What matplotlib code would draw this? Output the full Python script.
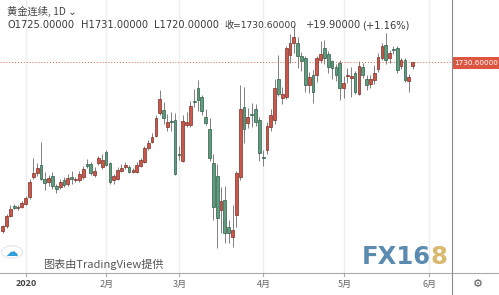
import matplotlib
matplotlib.use("Agg")
import matplotlib.pyplot as plt
from matplotlib.patches import Rectangle, Circle
from matplotlib.lines import Line2D

# ---------------- data (daily candles) ----------------
opens = [1473,1480,1496,1511,1508,1510,1514,1524,1556,1561,
         1574,1552,1547,1557,1542,1540,1551,1545,1555,1551,
         1551,1556,1575,1575,1558,1577,1570,1594,1576,1550,
         1553,1565,1570,1570,1563,1563,1572,1579,1599,1609,
         1618,1653,1658,1632,1641,1642,1590,1580,1635,1635,
         1671,1691,1678,1647,1628,1577,1557,1505,1520,1479,
         1463,1497,1556,1663,1638,1651,1660,1642,1586,1597,
         1632,1642,1705,1676,1678,1742,1761,1761,1740,1737,
         1696,1711,1711,1735,1752,1744,1732,1724,1729,1691,
         1710,1707,1714,1683,1724,1705,1698,1703,1721,1738,
         1757,1737,1751,1752,1725,1735,1702,1725]
highs = [1482,1499,1512,1514,1513,1519,1526,1552,1585,1576,
         1609,1563,1559,1563,1545,1552,1555,1560,1565,1556,
         1564,1572,1583,1578,1570,1588,1590,1597,1578,1560,
         1570,1575,1578,1574,1569,1578,1585,1603,1612,1623,
         1650,1689,1670,1652,1655,1653,1602,1650,1655,1671,
         1690,1704,1680,1660,1645,1590,1575,1540,1541,1490,
         1512,1565,1696,1693,1661,1668,1667,1647,1597,1640,
         1660,1705,1742,1693,1756,1774,1788,1770,1747,1740,
         1716,1719,1740,1764,1765,1748,1735,1728,1735,1710,
         1722,1724,1717,1732,1730,1712,1712,1727,1745,1760,
         1775,1750,1756,1755,1738,1738,1713,1731]
lows = [1470,1478,1494,1506,1505,1508,1512,1521,1553,1557,
        1551,1535,1541,1537,1531,1537,1540,1542,1545,1548,
        1548,1553,1569,1558,1555,1574,1568,1572,1545,1544,
        1551,1563,1568,1561,1561,1561,1570,1577,1597,1607,
        1616,1650,1637,1625,1625,1558,1581,1578,1632,1632,
        1662,1656,1650,1635,1580,1490,1446,1470,1454,1454,
        1449,1479,1550,1607,1630,1632,1633,1580,1572,1590,
        1625,1637,1679,1667,1675,1729,1745,1722,1717,1685,
        1684,1668,1700,1730,1728,1714,1705,1702,1673,1676,
        1699,1678,1682,1680,1706,1688,1692,1698,1716,1735,
        1728,1730,1744,1715,1720,1700,1686,1720]
closes = [1480,1496,1507,1508,1510,1516,1523,1547,1562,1569,
          1553,1546,1554,1542,1537,1548,1543,1554,1552,1553,
          1560,1567,1572,1562,1565,1584,1582,1574,1548,1557,
          1566,1569,1574,1563,1566,1574,1581,1599,1608,1616,
          1645,1674,1645,1640,1639,1560,1589,1641,1640,1664,
          1670,1673,1657,1638,1585,1510,1492,1518,1469,1470,
          1475,1561,1660,1628,1647,1650,1640,1592,1585,1633,
          1650,1691,1683,1682,1752,1761,1769,1740,1732,1696,
          1709,1686,1737,1744,1737,1724,1722,1711,1691,1699,
          1710.5,1710,1686,1725,1711,1696,1705,1715,1739,1756,
          1734,1745,1750,1719,1734,1704,1709,1730.6]

month_tick_pos = [6, 27, 46, 68, 89, 111.2]
month_labels = ["2020", "2月", "3月", "4月", "5月", "6月"]

last_price = 1730.6
header_title = "黄金连续, 1D"
header_ohlc = ["O1725.00000", "H1731.00000", "L1720.00000", "收=1730.60000",
               "+19.90000", "(+1.16%)"]

# ---------------- figure ----------------
W, H = 499, 295
fig = plt.figure(figsize=(W / 100, H / 100), dpi=100)
fig.patch.set_facecolor("white")

plot_right = 452
axis_y = 273
ax = fig.add_axes([0, (H - axis_y) / H, plot_right / W, axis_y / H])
ax.set_facecolor("white")
ax.set_xlim(-0.705, 117.3)
ax.set_ylim(1408.5, 1826)
for s in ax.spines.values():
    s.set_visible(False)
ax.set_xticks([])
ax.set_yticks([])

# month grid lines
for p in month_tick_pos:
    ax.axvline(p, color="#eceef2", lw=1.0, zorder=0)

UP_FACE, UP_EDGE = "#c9584a", "#7d2e25"
DN_FACE, DN_EDGE = "#5f9c7f", "#2f5c46"
bw = 0.72
for i, (o, h, l, c) in enumerate(zip(opens, highs, lows, closes)):
    up = c >= o
    face = UP_FACE if up else DN_FACE
    edge = UP_EDGE if up else DN_EDGE
    ax.plot([i, i], [l, h], color="#6b6b6b", lw=0.6, zorder=1, solid_capstyle="butt")
    lo, hi = min(o, c), max(o, c)
    ax.add_patch(Rectangle((i - bw / 2, lo), bw, max(hi - lo, 0.6),
                           facecolor=face, edgecolor=edge, lw=0.5, zorder=2))

# last price dotted line
ax.axhline(last_price, color="#e0604e", lw=0.7, ls=(0, (1, 2)), zorder=1)


def px(x, y):
    return x / W, 1 - y / H


# axis lines
fig.add_artist(Line2D([0, 1], [1 - axis_y / H] * 2, color="#a9abb0", lw=0.8))
fig.add_artist(Line2D([plot_right / W] * 2, [0, 1], color="#8a8c90", lw=0.8))

# tick marks + labels
for p, lab in zip(month_tick_pos, month_labels):
    xp = 2.7 + 3.83 * p
    fig.add_artist(Line2D([xp / W] * 2, [1 - axis_y / H, 1 - (axis_y + 3) / H],
                          color="#a9abb0", lw=0.8))
    bold = lab == "2020"
    fig.text(*px(xp + 1, 284), lab, ha="center", va="center",
             fontsize=6.5, color="#444444" if bold else "#666666",
             fontweight="bold" if bold else "normal",
             family=["Noto Sans CJK SC", "DejaVu Sans"])

# price label
y_lp = 63
fig.add_artist(Rectangle(px(452, y_lp + 6), 47 / W, 12 / H, facecolor="#dc5641",
                         edgecolor="none", transform=fig.transFigure))
fig.text(*px(476, y_lp), "1730.60000", ha="center", va="center", fontsize=5.2,
         color="white", family="DejaVu Sans")

# header
fig.text(*px(7, 11), header_title + " ⌄", ha="left", va="center", fontsize=7.4,
         color="#444444", family=["Noto Sans CJK SC", "DejaVu Sans"])
segs = [(8, 7.1), (81, 7.1), (154, 7.1), (224, 6.6), (306, 7.1), (361.7, 7.1)]
for (xv, fs), s in zip(segs, header_ohlc):
    fig.text(*px(xv, 25), s, ha="left", va="center", fontsize=fs,
             color="#3a3a3a", family=["DejaVu Sans", "Noto Sans CJK SC"])

# TradingView watermark
fig.add_artist(Circle(px(12, 252), 10.5 / W, transform=fig.transFigure,
                      facecolor="white", edgecolor="#e3e5ea", lw=0.8))
fig.text(*px(12, 252), "☁", ha="center", va="center", fontsize=9,
         color="#2e9fd8", family="DejaVu Sans")
fig.text(*px(43, 264), "图表由TradingView提供", ha="left", va="center",
         fontsize=8, color="#555555", family=["Noto Sans CJK SC", "DejaVu Sans"])

# FX168 watermark
fig.text(*px(431, 257), "FX16", ha="right", va="center", fontsize=17.5,
         fontweight="bold", color="#4a7fa8", family="DejaVu Sans", alpha=0.9)
fig.text(*px(430, 257), "8", ha="left", va="center", fontsize=17.5,
         fontweight="bold", color="#d4b25e", family="DejaVu Sans", alpha=0.9)

# settings gear
fig.text(*px(478, 284), "⚙", ha="center", va="center", fontsize=8,
         color="#555555", family="DejaVu Sans")

fig.savefig("out.png", dpi=100)
